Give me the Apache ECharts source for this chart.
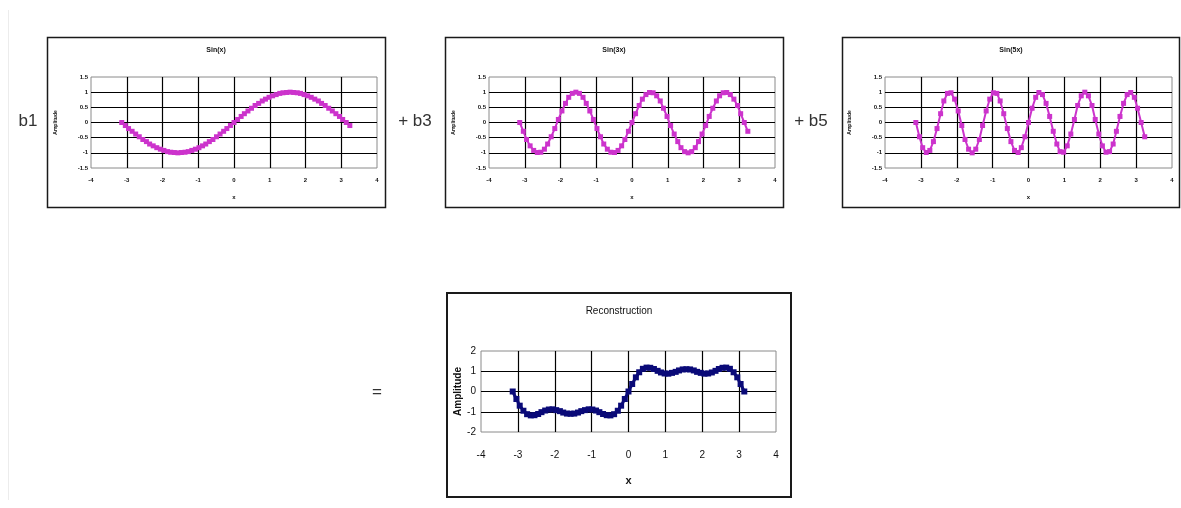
<!DOCTYPE html>
<html>
<head>
<meta charset="utf-8">
<script src="https://cdn.jsdelivr.net/npm/echarts@6/dist/echarts.min.js"></script>
<style>
  html, body { margin: 0; padding: 0; background: #ffffff; }
  #chart { width: 1181px; height: 508px; }
</style>
</head>
<body>
<div id="chart"></div>
<script>
// ---- data ----
const xValues = [-3.14,-3.04,-2.95,-2.85,-2.75,-2.65,-2.55,-2.45,-2.36,-2.26,-2.16,-2.06,-1.96,-1.86,-1.77,-1.67,-1.57,-1.47,-1.37,-1.28,-1.18,-1.08,-0.98,-0.88,-0.79,-0.69,-0.59,-0.49,-0.39,-0.29,-0.20,-0.10,0,0.10,0.20,0.29,0.39,0.49,0.59,0.69,0.79,0.88,0.98,1.08,1.18,1.28,1.37,1.47,1.57,1.67,1.77,1.86,1.96,2.06,2.16,2.26,2.36,2.45,2.55,2.65,2.75,2.85,2.95,3.04,3.14,3.24];

const sinX = [0,-0.10,-0.20,-0.29,-0.38,-0.47,-0.56,-0.63,-0.71,-0.77,-0.83,-0.88,-0.92,-0.96,-0.98,-0.99,-1,-0.99,-0.98,-0.96,-0.92,-0.88,-0.83,-0.77,-0.71,-0.63,-0.56,-0.47,-0.38,-0.29,-0.20,-0.10,0,0.10,0.20,0.29,0.38,0.47,0.56,0.63,0.71,0.77,0.83,0.88,0.92,0.96,0.98,0.99,1,0.99,0.98,0.96,0.92,0.88,0.83,0.77,0.71,0.63,0.56,0.47,0.38,0.29,0.20,0.10,0,-0.10];

const sin3X = [0,-0.29,-0.56,-0.77,-0.92,-0.99,-0.98,-0.88,-0.71,-0.47,-0.20,
  0.10,0.38,0.63,0.83,0.96,1,0.96,0.83,0.63,0.38,0.10,
  -0.20,-0.47,-0.71,-0.88,-0.98,-0.99,-0.92,-0.77,-0.56,-0.29,
  0,
  0.29,0.56,0.77,0.92,0.99,0.98,0.88,0.71,0.47,0.20,
  -0.10,-0.38,-0.63,-0.83,-0.96,-1,-0.96,-0.83,-0.63,-0.38,-0.10,
  0.20,0.47,0.71,0.88,0.98,0.99,0.92,0.77,0.56,0.29,
  0,-0.29];

const sin5X = [0,-0.47,-0.83,-0.99,-0.92,-0.63,-0.20,
  0.29,0.71,0.96,0.98,0.77,0.38,
  -0.10,-0.56,-0.88,-1,-0.88,-0.56,-0.10,
  0.38,0.77,0.98,0.96,0.71,0.29,
  -0.20,-0.63,-0.92,-0.99,-0.83,-0.47,
  0,
  0.47,0.83,0.99,0.92,0.63,0.20,
  -0.29,-0.71,-0.96,-0.98,-0.77,-0.38,
  0.10,0.56,0.88,1,0.88,0.56,0.10,
  -0.38,-0.77,-0.98,-0.96,-0.71,-0.29,
  0.20,0.63,0.92,0.99,0.83,0.47,
  0,-0.47];

const reconstruction = [0,-0.37,-0.70,-0.95,-1.12,-1.18,-1.17,-1.11,-1.02,-0.94,-0.89,-0.88,-0.92,-0.97,-1.04,-1.09,-1.10,-1.09,-1.04,-0.97,-0.92,-0.88,-0.89,-0.94,-1.02,-1.11,-1.17,-1.18,-1.12,-0.95,-0.70,-0.37,0,0.37,0.70,0.95,1.12,1.18,1.17,1.11,1.02,0.94,0.89,0.88,0.92,0.97,1.04,1.09,1.10,1.09,1.04,0.97,0.92,0.88,0.89,0.94,1.02,1.11,1.17,1.18,1.12,0.95,0.70,0.37,0];

const chartTitles = ['Sin(x)', 'Sin(3x)', 'Sin(5x)', 'Reconstruction'];
const coefLabels = ['b1', '+ b3', '+ b5', '='];
const xAxisName = 'x';
const yAxisName = 'Amplitude';

// ---- build chart ----
const FONT = '"Liberation Sans", Arial, sans-serif';
const chart = echarts.init(document.getElementById('chart'), null, { renderer: 'canvas' });

const topGrids = [
  { left: 91, top: 77, width: 286, height: 91 },
  { left: 489, top: 77, width: 286, height: 91 },
  { left: 885, top: 77, width: 287, height: 91 }
];
const bottomGrid = { left: 481, top: 351, width: 295, height: 81 };

const grids = topGrids.concat([bottomGrid]).map(g => Object.assign({
  show: true, backgroundColor: '#ffffff', borderColor: '#8a8a8a', borderWidth: 1, containLabel: false
}, g));

const splitLine = { show: true, showMinLine: false, showMaxLine: false, lineStyle: { color: '#000000', width: 1.2 } };

const xAxes = [], yAxes = [];
for (let i = 0; i < 3; i++) {
  xAxes.push({
    gridIndex: i, type: 'value', min: -4, max: 4, interval: 1,
    axisLine: { show: false }, axisTick: { show: false },
    axisLabel: { fontSize: 6, margin: 9, color: '#111', fontFamily: FONT, fontWeight: 'bold' },
    splitLine: splitLine,
    name: xAxisName, nameLocation: 'middle', nameGap: 26,
    nameTextStyle: { fontSize: 6, color: '#111', fontFamily: FONT, fontWeight: 'bold' }
  });
  yAxes.push({
    gridIndex: i, type: 'value', min: -1.5, max: 1.5, interval: 0.5,
    axisLine: { show: false }, axisTick: { show: false },
    axisLabel: { fontSize: 6, margin: 3, color: '#111', fontFamily: FONT, fontWeight: 'bold' },
    splitLine: splitLine,
    name: yAxisName, nameLocation: 'middle', nameGap: 33, nameRotate: 90,
    nameTextStyle: { fontSize: 5, color: '#111', fontFamily: FONT, fontWeight: 'bold' }
  });
}
xAxes.push({
  gridIndex: 3, type: 'value', min: -4, max: 4, interval: 1,
  axisLine: { show: false }, axisTick: { show: false },
  axisLabel: { fontSize: 10, margin: 18, color: '#111', fontFamily: FONT },
  splitLine: splitLine,
  name: xAxisName, nameLocation: 'middle', nameGap: 43,
  nameTextStyle: { fontSize: 11, color: '#111', fontFamily: FONT, fontWeight: 'bold' }
});
yAxes.push({
  gridIndex: 3, type: 'value', min: -2, max: 2, interval: 1,
  axisLine: { show: false }, axisTick: { show: false },
  axisLabel: { fontSize: 10, margin: 5, color: '#111', fontFamily: FONT },
  splitLine: splitLine,
  name: yAxisName, nameLocation: 'middle', nameGap: 17, nameRotate: 90,
  nameTextStyle: { fontSize: 10, color: '#111', fontFamily: FONT, fontWeight: 'bold' }
});

function pairs(xs, ys) { return ys.map((y, i) => [xs[i], y]); }

const MAGENTA = '#cc33cc';
const NAVY = '#0a0a78';
const topSeriesData = [sinX, sin3X, sin5X];
const series = topSeriesData.map((ys, i) => ({
  type: 'line', xAxisIndex: i, yAxisIndex: i,
  data: pairs(xValues, ys),
  symbol: 'rect', symbolSize: 5, showSymbol: true,
  lineStyle: { color: MAGENTA, width: 2 },
  itemStyle: { color: MAGENTA },
  animation: false, silent: true
}));
series.push({
  type: 'line', xAxisIndex: 3, yAxisIndex: 3,
  data: pairs(xValues, reconstruction),
  symbol: 'rect', symbolSize: 6, showSymbol: true,
  lineStyle: { color: NAVY, width: 3 },
  itemStyle: { color: NAVY },
  animation: false, silent: true
});

const boxes = [
  { x: 47.5, y: 37.5, w: 338, h: 170, lw: 1.5 },
  { x: 445.5, y: 37.5, w: 338, h: 170, lw: 1.5 },
  { x: 842.5, y: 37.5, w: 337, h: 170, lw: 1.5 },
  { x: 447, y: 293, w: 344, h: 204, lw: 2 }
];
const graphic = [];
graphic.push({ type: 'line', shape: { x1: 8.5, y1: 10, x2: 8.5, y2: 500 }, style: { stroke: '#ececec', lineWidth: 1 }, silent: true });
boxes.forEach(b => graphic.push({
  type: 'rect', shape: { x: b.x, y: b.y, width: b.w, height: b.h },
  style: { fill: null, stroke: '#1a1a1a', lineWidth: b.lw }, silent: true, z: 10
}));
const titlePos = [
  { x: 216, y: 50, size: 7, weight: 'bold' },
  { x: 614, y: 50, size: 7, weight: 'bold' },
  { x: 1011, y: 50, size: 7, weight: 'bold' },
  { x: 619, y: 311, size: 10, weight: 'normal' }
];
chartTitles.forEach((t, i) => graphic.push({
  type: 'text', x: titlePos[i].x, y: titlePos[i].y,
  style: { text: t, fontSize: titlePos[i].size, fontFamily: FONT, fontWeight: titlePos[i].weight, fill: '#111', align: 'center', verticalAlign: 'middle' },
  silent: true
}));
const labelPos = [
  { x: 28, y: 121 }, { x: 415, y: 121 }, { x: 811, y: 121 }, { x: 377, y: 392 }
];
coefLabels.forEach((t, i) => graphic.push({
  type: 'text', x: labelPos[i].x, y: labelPos[i].y,
  style: { text: t, fontSize: 17, fontFamily: FONT, fill: '#333', align: 'center', verticalAlign: 'middle' },
  silent: true
}));

chart.setOption({
  animation: false,
  backgroundColor: '#ffffff',
  grid: grids,
  xAxis: xAxes,
  yAxis: yAxes,
  series: series,
  graphic: graphic
});
</script>
</body>
</html>
